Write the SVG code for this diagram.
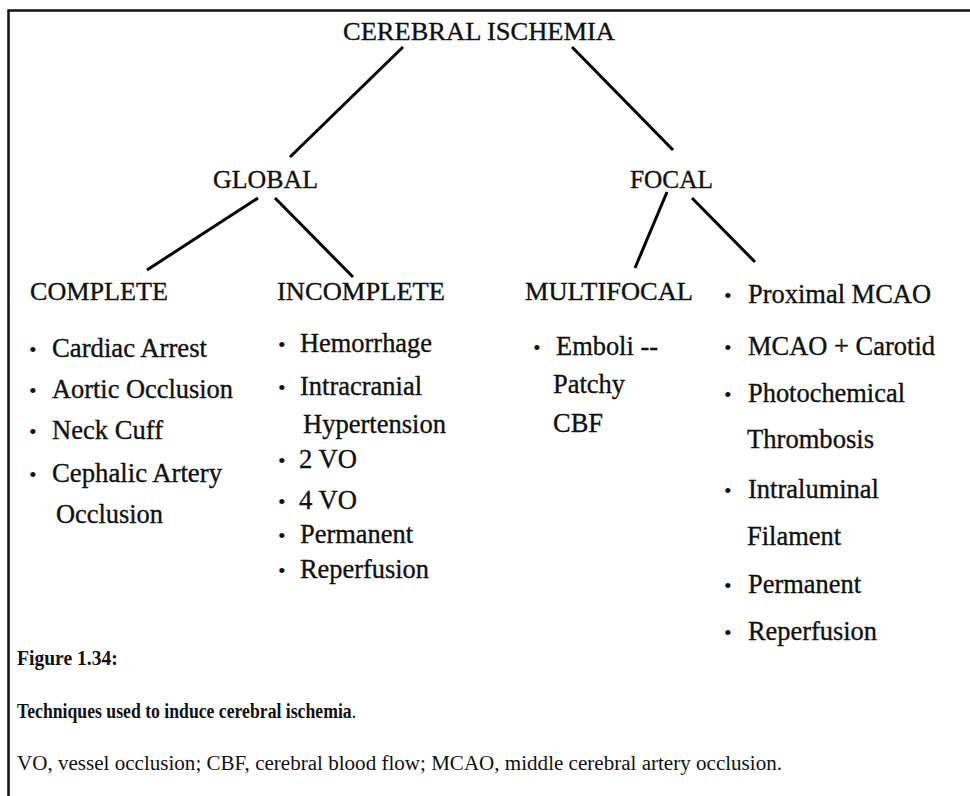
<svg xmlns="http://www.w3.org/2000/svg" width="970" height="796" viewBox="0 0 970 796">
  <style>
    .hd, .entry, .dot, .cap, .capb { font-family: "Liberation Serif", "Times New Roman", "DejaVu Serif", serif; fill: #111; }
    .hd { font-size: 26px; stroke: #111; stroke-width: 0.35; }
    .entry { font-size: 26.5px; stroke: #111; stroke-width: 0.35; }
    .dot { font-size: 22px; }
    .cap { font-size: 20px; }
    .capb { font-size: 20px; font-weight: bold; }
    .edge { stroke: #000; stroke-width: 3; stroke-linecap: butt; fill: none; }
    .frame { stroke: #111; stroke-width: 2.5; fill: none; }
  </style>

  <rect width="970" height="796" fill="#fff"/>

  <!-- open frame: top rule and left rule only -->
  <path class="frame" d="M970 10.5 H8.5 V796"/>

  <!-- tree connectors -->
  <g id="connectors">
    <line class="edge" x1="403" y1="47" x2="290" y2="157"/>
    <line class="edge" x1="572" y1="47" x2="673" y2="150"/>
    <line class="edge" x1="258" y1="198" x2="147" y2="270"/>
    <line class="edge" x1="275" y1="198" x2="353" y2="277"/>
    <line class="edge" x1="667" y1="192" x2="635" y2="268"/>
    <line class="edge" x1="692" y1="198" x2="755" y2="262"/>
  </g>

  <g id="root">
    <text class="hd" x="343" y="40" textLength="272" lengthAdjust="spacingAndGlyphs">CEREBRAL ISCHEMIA</text>
  </g>

  <g id="global">
    <text class="hd" x="213" y="188" textLength="105" lengthAdjust="spacingAndGlyphs">GLOBAL</text>
  </g>

  <g id="focal">
    <text class="hd" x="630" y="188" textLength="83" lengthAdjust="spacingAndGlyphs">FOCAL</text>
  </g>

  <g id="complete">
    <text class="hd" x="30" y="300" textLength="138" lengthAdjust="spacingAndGlyphs">COMPLETE</text>
    <text class="dot" x="29" y="357">•</text><text class="entry" x="52" y="357" textLength="155" lengthAdjust="spacingAndGlyphs">Cardiac Arrest</text>
    <text class="dot" x="29" y="398">•</text><text class="entry" x="52" y="398" textLength="181" lengthAdjust="spacingAndGlyphs">Aortic Occlusion</text>
    <text class="dot" x="29" y="439">•</text><text class="entry" x="52" y="439" textLength="111" lengthAdjust="spacingAndGlyphs">Neck Cuff</text>
    <text class="dot" x="29" y="482">•</text><text class="entry" x="52" y="482" textLength="170" lengthAdjust="spacingAndGlyphs">Cephalic Artery</text>
    <text class="entry" x="56" y="523" textLength="107" lengthAdjust="spacingAndGlyphs">Occlusion</text>
  </g>

  <g id="incomplete">
    <text class="hd" x="277" y="300" textLength="168" lengthAdjust="spacingAndGlyphs">INCOMPLETE</text>
    <text class="dot" x="278" y="352">•</text><text class="entry" x="300" y="352" textLength="132" lengthAdjust="spacingAndGlyphs">Hemorrhage</text>
    <text class="dot" x="278" y="395">•</text><text class="entry" x="300" y="395" textLength="122" lengthAdjust="spacingAndGlyphs">Intracranial</text>
    <text class="entry" x="303" y="433" textLength="143" lengthAdjust="spacingAndGlyphs">Hypertension</text>
    <text class="dot" x="278" y="468">•</text><text class="entry" x="299" y="468" textLength="58" lengthAdjust="spacingAndGlyphs">2 VO</text>
    <text class="dot" x="278" y="509">•</text><text class="entry" x="299" y="509" textLength="58" lengthAdjust="spacingAndGlyphs">4 VO</text>
    <text class="dot" x="278" y="543">•</text><text class="entry" x="300" y="543" textLength="113" lengthAdjust="spacingAndGlyphs">Permanent</text>
    <text class="dot" x="278" y="578">•</text><text class="entry" x="300" y="578" textLength="129" lengthAdjust="spacingAndGlyphs">Reperfusion</text>
  </g>

  <g id="multifocal">
    <text class="hd" x="525" y="300" textLength="168" lengthAdjust="spacingAndGlyphs">MULTIFOCAL</text>
    <text class="dot" x="533" y="355">•</text><text class="entry" x="556" y="355" textLength="102" lengthAdjust="spacingAndGlyphs">Emboli --</text>
    <text class="entry" x="553" y="393" textLength="72" lengthAdjust="spacingAndGlyphs">Patchy</text>
    <text class="entry" x="553" y="432" textLength="50" lengthAdjust="spacingAndGlyphs">CBF</text>
  </g>

  <g id="focal-methods">
    <text class="dot" x="724" y="303">•</text><text class="entry" x="748" y="303" textLength="183" lengthAdjust="spacingAndGlyphs">Proximal MCAO</text>
    <text class="dot" x="724" y="355">•</text><text class="entry" x="748" y="355" textLength="187" lengthAdjust="spacingAndGlyphs">MCAO + Carotid</text>
    <text class="dot" x="724" y="402">•</text><text class="entry" x="748" y="402" textLength="157" lengthAdjust="spacingAndGlyphs">Photochemical</text>
    <text class="entry" x="747" y="448" textLength="127" lengthAdjust="spacingAndGlyphs">Thrombosis</text>
    <text class="dot" x="724" y="498">•</text><text class="entry" x="748" y="498" textLength="131" lengthAdjust="spacingAndGlyphs">Intraluminal</text>
    <text class="entry" x="747" y="545" textLength="94" lengthAdjust="spacingAndGlyphs">Filament</text>
    <text class="dot" x="724" y="593">•</text><text class="entry" x="748" y="593" textLength="113" lengthAdjust="spacingAndGlyphs">Permanent</text>
    <text class="dot" x="724" y="640">•</text><text class="entry" x="748" y="640" textLength="129" lengthAdjust="spacingAndGlyphs">Reperfusion</text>
  </g>

  <!-- caption set in a horizontally condensed serif -->
  <g id="caption">
    <text class="capb" transform="translate(17 665) scale(0.98 1)">Figure 1.34:</text>
    <text class="cap" transform="translate(17 718) scale(0.885 1)"><tspan font-weight="bold">Techniques used to induce cerebral ischemia</tspan>.</text>
    <text class="cap" x="17" y="770" textLength="765" lengthAdjust="spacingAndGlyphs">VO, vessel occlusion; CBF, cerebral blood flow; MCAO, middle cerebral artery occlusion.</text>
  </g>
</svg>
